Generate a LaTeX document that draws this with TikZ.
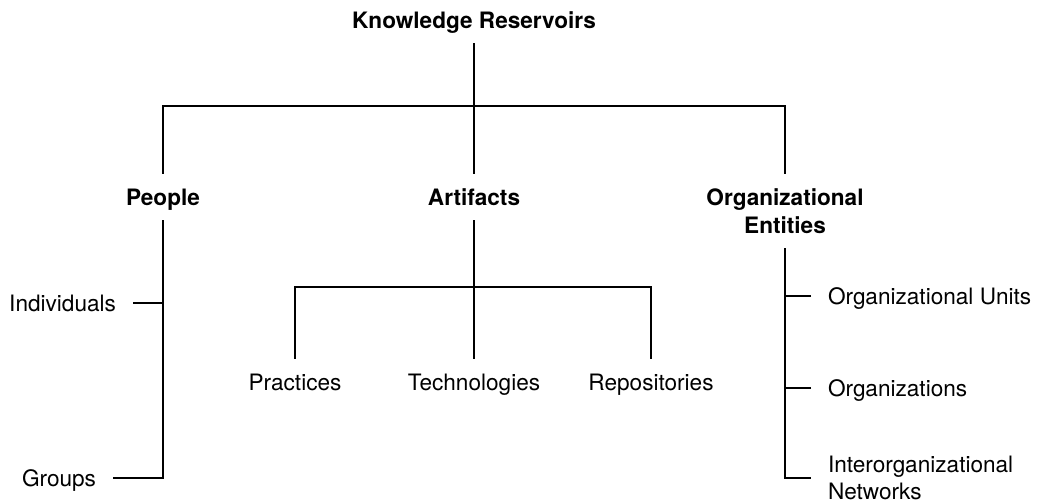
\documentclass[tikz,border=0pt]{standalone}
\usepackage{fontspec}
\setmainfont{TeX Gyre Heros}
\usetikzlibrary{positioning,calc}

\begin{document}
\begin{tikzpicture}[x=0.5pt, y=-0.5pt, line width=1pt,
    every node/.style={font=\fontsize{11.3}{13.5}\selectfont, inner ysep=7pt, text depth=0pt},
    head/.style={font=\fontsize{11.3}{14}\selectfont\bfseries},
    sideleaf/.style={inner xsep=8pt}]
  \useasboundingbox (0,0) rectangle (1043,502);

  % Root and the three reservoirs
  \node[head] (reservoirs) at (474,20) {Knowledge Reservoirs};
  \node[head] (people) at (163,197) {People};
  \node[head] (artifacts) at (474,197) {Artifacts};
  \node[head, align=center] (entities) at (785,211) {Organizational\\Entities};
  \coordinate (topbar) at (474,106);

  % People branch (labels on the left)
  \node[sideleaf, anchor=east] (individuals) at (133,303) {Individuals};
  \node[sideleaf, anchor=east] (groups) at (113,478) {Groups};

  % Artifacts branch
  \node (practices) at (295,382) {Practices};
  \node (technologies) at (474,382) {Technologies};
  \node (repositories) at (651,382) {Repositories};
  \coordinate (artbar) at (474,287);

  % Organizational entities branch (labels on the right)
  \node[sideleaf, anchor=west] (units) at (811,296) {Organizational Units};
  \node[sideleaf, anchor=west] (organizations) at (811,388) {Organizations};
  \node[sideleaf, anchor=west, align=left] (networks) at (811,478)
    {Interorganizational\\Networks};

  % Connectors
  \draw (reservoirs.south) -- (artifacts.north);
  \draw (people.north) |- (topbar) -| (entities.north);
  \draw (people.south) |- (groups.east);
  \draw (individuals.east) -- (individuals.east -| people.south);
  \draw (artifacts.south) -- (technologies.north);
  \draw (practices.north) |- (artbar) -| (repositories.north);
  \draw (entities.south) |- (networks.west);
  \draw (units.west) -- (units.west -| entities.south);
  \draw (organizations.west) -- (organizations.west -| entities.south);
\end{tikzpicture}
\end{document}
